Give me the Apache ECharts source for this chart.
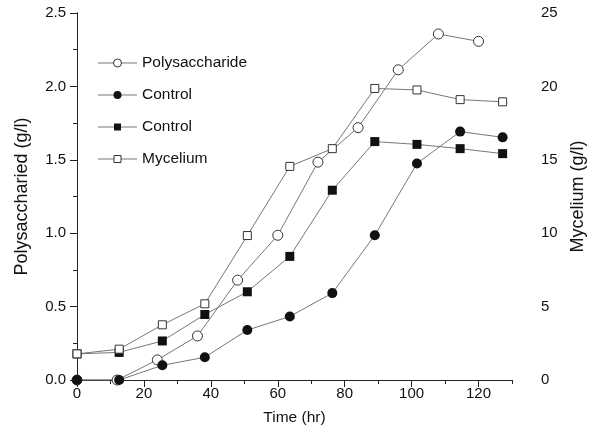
<!DOCTYPE html>
<html>
<head>
<meta charset="utf-8">
<script src="https://cdn.jsdelivr.net/npm/echarts@6/dist/echarts.min.js"></script>
<style>
  html, body { margin: 0; padding: 0; background: #fff; }
  #chart { width: 601px; height: 436px; }
</style>
</head>
<body>
<div id="chart"></div>
<script>
// Sampling times (hr)
const polyHours = [0, 12, 24, 36, 48, 60, 72, 84, 96, 108, 120];
const ctlHours = [0, 12.6, 25.5, 38.2, 50.9, 63.6, 76.3, 89, 101.6, 114.5, 127.2];

// Polysaccharide (g/l), left axis
const polysaccharide = [0, 0, 0.137, 0.30, 0.68, 0.986, 1.484, 1.719, 2.113, 2.357, 2.307];
const controlPoly = [0, 0, 0.10, 0.155, 0.34, 0.433, 0.592, 0.986, 1.475, 1.692, 1.653];

// Mycelium (g/l), right axis
const controlMyc = [1.78, 1.88, 2.66, 4.46, 6.01, 8.42, 12.93, 16.24, 16.05, 15.76, 15.42];
const mycelium = [1.78, 2.10, 3.76, 5.19, 9.84, 14.55, 15.76, 19.86, 19.76, 19.1, 18.95];

// Tick positions
const xMajorTicks = [0, 20, 40, 60, 80, 100, 120];
const xMinorTicks = [10, 30, 50, 70, 90, 110, 130];

// Legend entries
const legendLabels = ['Polysaccharide', 'Control', 'Control', 'Mycelium'];

const pair = (xs, ys) => xs.map((x, i) => [x, ys[i]]);

const FONT = 'Liberation Sans, Arial, Helvetica, sans-serif';
const AXIS = '#222';
const LINE = '#777';
const EDGE = '#333';
const INK = '#111';

const openStyle = { color: '#fff', borderColor: EDGE, borderWidth: 1 };
const filledStyle = { color: INK, borderColor: INK, borderWidth: 0 };

// Marker description per legend row: [shape, filled]
const legendMarks = [['circle', false], ['circle', true], ['rect', true], ['rect', false]];

// Legend drawn as a graphic group: line - marker - line, then the label
function legendGraphic() {
  const x0 = 98, x1 = 137, xm = 117.5, tx = 142, y0 = 63, step = 32;
  const children = [];
  legendLabels.forEach((label, i) => {
    const y = y0 + i * step;
    const [shape, filled] = legendMarks[i];
    children.push({
      type: 'line',
      shape: { x1: x0, y1: y, x2: x1, y2: y },
      style: { stroke: LINE, lineWidth: 1 }
    });
    const markStyle = filled
      ? { fill: INK, stroke: INK, lineWidth: 0 }
      : { fill: '#fff', stroke: EDGE, lineWidth: 1 };
    if (shape === 'circle') {
      children.push({ type: 'circle', shape: { cx: xm, cy: y, r: 4 }, style: markStyle });
    } else {
      children.push({ type: 'rect', shape: { x: xm - 3.5, y: y - 3.5, width: 7, height: 7 }, style: markStyle });
    }
    children.push({
      type: 'text',
      x: tx, y: y,
      style: { text: label, fill: INK, font: '15.5px ' + FONT, textVerticalAlign: 'middle', verticalAlign: 'middle' }
    });
  });
  return [{ type: 'group', children }];
}

const chart = echarts.init(document.getElementById('chart'), null, { renderer: 'canvas' });

chart.setOption({
  animation: false,
  backgroundColor: '#fff',
  textStyle: { fontFamily: FONT },
  grid: { left: 77, right: 89, top: 13, bottom: 56, containLabel: false },
  graphic: legendGraphic(),
  xAxis: [
    {
      type: 'value',
      min: 0, max: 130, interval: 10,
      name: 'Time (hr)',
      nameLocation: 'middle',
      nameGap: 30,
      nameTextStyle: { fontSize: 15.5, color: INK, fontFamily: FONT },
      axisLine: { show: true, lineStyle: { color: AXIS, width: 1 } },
      axisTick: { show: true, customValues: xMinorTicks, length: 4, lineStyle: { color: AXIS } },
      axisLabel: { customValues: xMajorTicks, fontSize: 15, color: INK, margin: 6, fontFamily: FONT },
      splitLine: { show: false }
    },
    {
      type: 'value',
      position: 'bottom',
      min: 0, max: 130, interval: 10,
      axisLine: { show: false },
      axisTick: { show: true, customValues: xMajorTicks, length: 7, lineStyle: { color: AXIS } },
      axisLabel: { show: false },
      splitLine: { show: false }
    }
  ],
  yAxis: [
    {
      type: 'value',
      position: 'left',
      min: 0, max: 2.5, interval: 0.5,
      name: 'Polysaccharied (g/l)',
      nameLocation: 'middle',
      nameGap: 46,
      nameTextStyle: { fontSize: 18, color: INK, fontFamily: FONT },
      axisLine: { show: true, lineStyle: { color: AXIS, width: 1 } },
      axisTick: { show: true, length: 7, lineStyle: { color: AXIS } },
      minorTick: { show: true, splitNumber: 2, length: 4, lineStyle: { color: AXIS } },
      axisLabel: { fontSize: 15, color: INK, margin: 11, formatter: v => v.toFixed(1), fontFamily: FONT },
      splitLine: { show: false }
    },
    {
      type: 'value',
      position: 'right',
      offset: 25,
      min: 0, max: 25, interval: 5,
      name: 'Mycelium (g/l)',
      nameLocation: 'middle',
      nameGap: 32,
      nameRotate: 90,
      nameTextStyle: { fontSize: 18, color: INK, fontFamily: FONT },
      axisLine: { show: true, lineStyle: { color: AXIS, width: 1 } },
      axisTick: { show: true, inside: true, length: 6, lineStyle: { color: AXIS } },
      minorTick: { show: true, splitNumber: 2, length: 4, lineStyle: { color: AXIS } },
      axisLabel: { fontSize: 15, color: INK, margin: 4, fontFamily: FONT },
      splitLine: { show: false }
    }
  ],
  series: [
    {
      name: 'Polysaccharide',
      type: 'line',
      yAxisIndex: 0,
      data: pair(polyHours, polysaccharide),
      symbol: 'circle',
      symbolSize: 10,
      showAllSymbol: true,
      lineStyle: { color: LINE, width: 1 },
      itemStyle: openStyle
    },
    {
      name: 'Control',
      type: 'line',
      yAxisIndex: 0,
      data: pair(ctlHours, controlPoly),
      symbol: 'circle',
      symbolSize: 10,
      showAllSymbol: true,
      lineStyle: { color: LINE, width: 1 },
      itemStyle: filledStyle
    },
    {
      name: 'Control (mycelium)',
      type: 'line',
      yAxisIndex: 1,
      data: pair(ctlHours, controlMyc),
      symbol: 'rect',
      symbolSize: 9,
      showAllSymbol: true,
      lineStyle: { color: LINE, width: 1 },
      itemStyle: filledStyle
    },
    {
      name: 'Mycelium',
      type: 'line',
      yAxisIndex: 1,
      data: pair(ctlHours, mycelium),
      symbol: 'rect',
      symbolSize: 8,
      showAllSymbol: true,
      lineStyle: { color: LINE, width: 1 },
      itemStyle: openStyle
    }
  ]
});
</script>
</body>
</html>
